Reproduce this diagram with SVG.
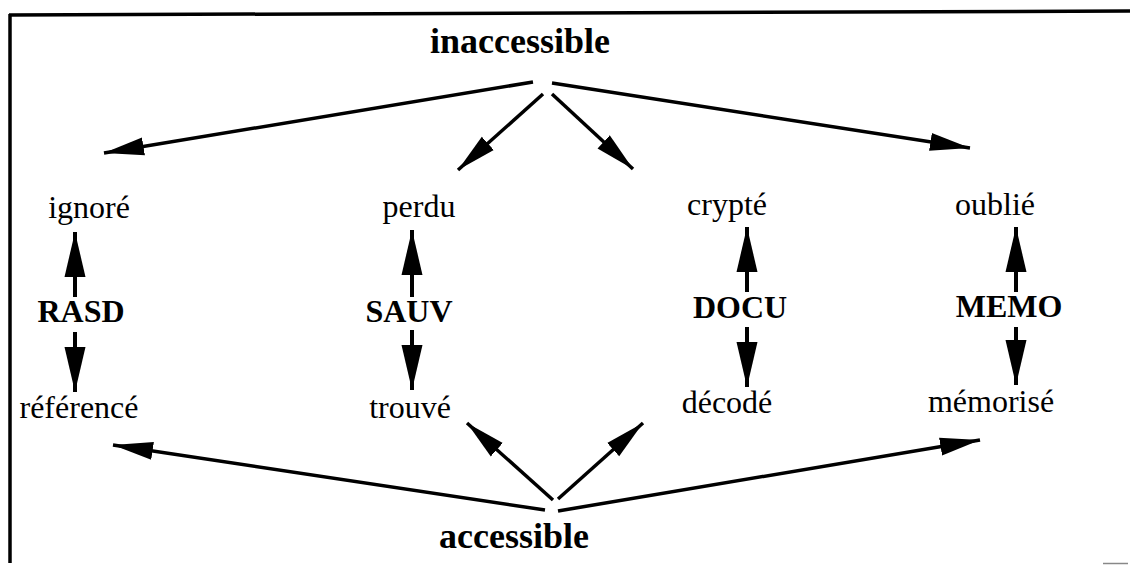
<svg xmlns="http://www.w3.org/2000/svg" width="1130" height="565" viewBox="0 0 1130 565">
  <style>
    .lbl { font-family: "Liberation Serif", "Times New Roman", serif; font-size: 32px; fill: #000; text-anchor: middle; }
    .pole { font-family: "Liberation Serif", "Times New Roman", serif; font-size: 36px; font-weight: bold; fill: #000; text-anchor: middle; }
    .op { font-family: "Liberation Serif", "Times New Roman", serif; font-size: 32px; font-weight: bold; fill: #000; text-anchor: middle; }
    .edge { stroke: #000; stroke-width: 3.5; fill: none; }
    .vedge { stroke: #000; stroke-width: 4; fill: none; }
  </style>
  <defs>
    <marker id="head" markerUnits="userSpaceOnUse" viewBox="0 -10 40 20" refX="40" refY="0" markerWidth="40" markerHeight="20" orient="auto">
      <path d="M0,-9 L40,0 L0,9 z" fill="#000"/>
    </marker>
    <marker id="vhead" markerUnits="userSpaceOnUse" viewBox="0 -11 45 22" refX="45" refY="0" markerWidth="45" markerHeight="22" orient="auto">
      <path d="M0,-10.5 L45,0 L0,10.5 z" fill="#000"/>
    </marker>
  </defs>

  <rect width="1130" height="565" fill="#fff"/>

  <!-- frame -->
  <g id="frame">
    <path d="M9,15 L1130,11" stroke="#000" stroke-width="3.5" fill="none"/>
    <path d="M10,14 L10,563" stroke="#000" stroke-width="3.5" fill="none"/>
    <path d="M1103,563.5 L1128,563.5" stroke="#888" stroke-width="1.5" fill="none"/>
  </g>

  <!-- poles -->
  <g id="inaccessible"><text class="pole" x="520" y="53">inaccessible</text></g>
  <g id="accessible"><text class="pole" x="514" y="548">accessible</text></g>

  <!-- states -->
  <g id="ignore"><text class="lbl" x="89" y="218">ignoré</text></g>
  <g id="reference"><text class="lbl" x="79" y="418">référencé</text></g>
  <g id="perdu"><text class="lbl" x="419" y="217">perdu</text></g>
  <g id="trouve"><text class="lbl" x="410" y="418">trouvé</text></g>
  <g id="crypte"><text class="lbl" x="727" y="215">crypté</text></g>
  <g id="decode"><text class="lbl" x="727" y="413">décodé</text></g>
  <g id="oublie"><text class="lbl" x="995" y="215">oublié</text></g>
  <g id="memorise"><text class="lbl" x="991" y="412">mémorisé</text></g>

  <!-- operators -->
  <g id="RASD"><text class="op" x="81" y="322">RASD</text></g>
  <g id="SAUV"><text class="op" x="409" y="322">SAUV</text></g>
  <g id="DOCU"><text class="op" x="740" y="318">DOCU</text></g>
  <g id="MEMO"><text class="op" x="1009" y="317">MEMO</text></g>

  <!-- connectors -->
  <g id="connectors">
    <!-- from inaccessible -->
    <line class="edge" x1="533" y1="82" x2="104" y2="153" marker-end="url(#head)"/>
    <line class="edge" x1="543" y1="94" x2="458" y2="170" marker-end="url(#head)"/>
    <line class="edge" x1="552" y1="94" x2="633" y2="169" marker-end="url(#head)"/>
    <line class="edge" x1="552" y1="83" x2="970" y2="148" marker-end="url(#head)"/>
    <!-- from accessible -->
    <line class="edge" x1="545" y1="510" x2="113" y2="445" marker-end="url(#head)"/>
    <line class="edge" x1="553" y1="500" x2="467" y2="423" marker-end="url(#head)"/>
    <line class="edge" x1="558" y1="499" x2="643" y2="423" marker-end="url(#head)"/>
    <line class="edge" x1="558" y1="511" x2="980" y2="440" marker-end="url(#head)"/>
    <!-- operator arrows -->
    <line class="vedge" x1="75" y1="297" x2="75" y2="232" marker-end="url(#vhead)"/>
    <line class="vedge" x1="75" y1="332" x2="75" y2="392" marker-end="url(#vhead)"/>
    <line class="vedge" x1="412" y1="297" x2="412" y2="230" marker-end="url(#vhead)"/>
    <line class="vedge" x1="412" y1="330" x2="412" y2="390" marker-end="url(#vhead)"/>
    <line class="vedge" x1="747" y1="292" x2="747" y2="227" marker-end="url(#vhead)"/>
    <line class="vedge" x1="747" y1="327" x2="747" y2="387" marker-end="url(#vhead)"/>
    <line class="vedge" x1="1016" y1="292" x2="1016" y2="227" marker-end="url(#vhead)"/>
    <line class="vedge" x1="1016" y1="327" x2="1016" y2="385" marker-end="url(#vhead)"/>
  </g>
</svg>
